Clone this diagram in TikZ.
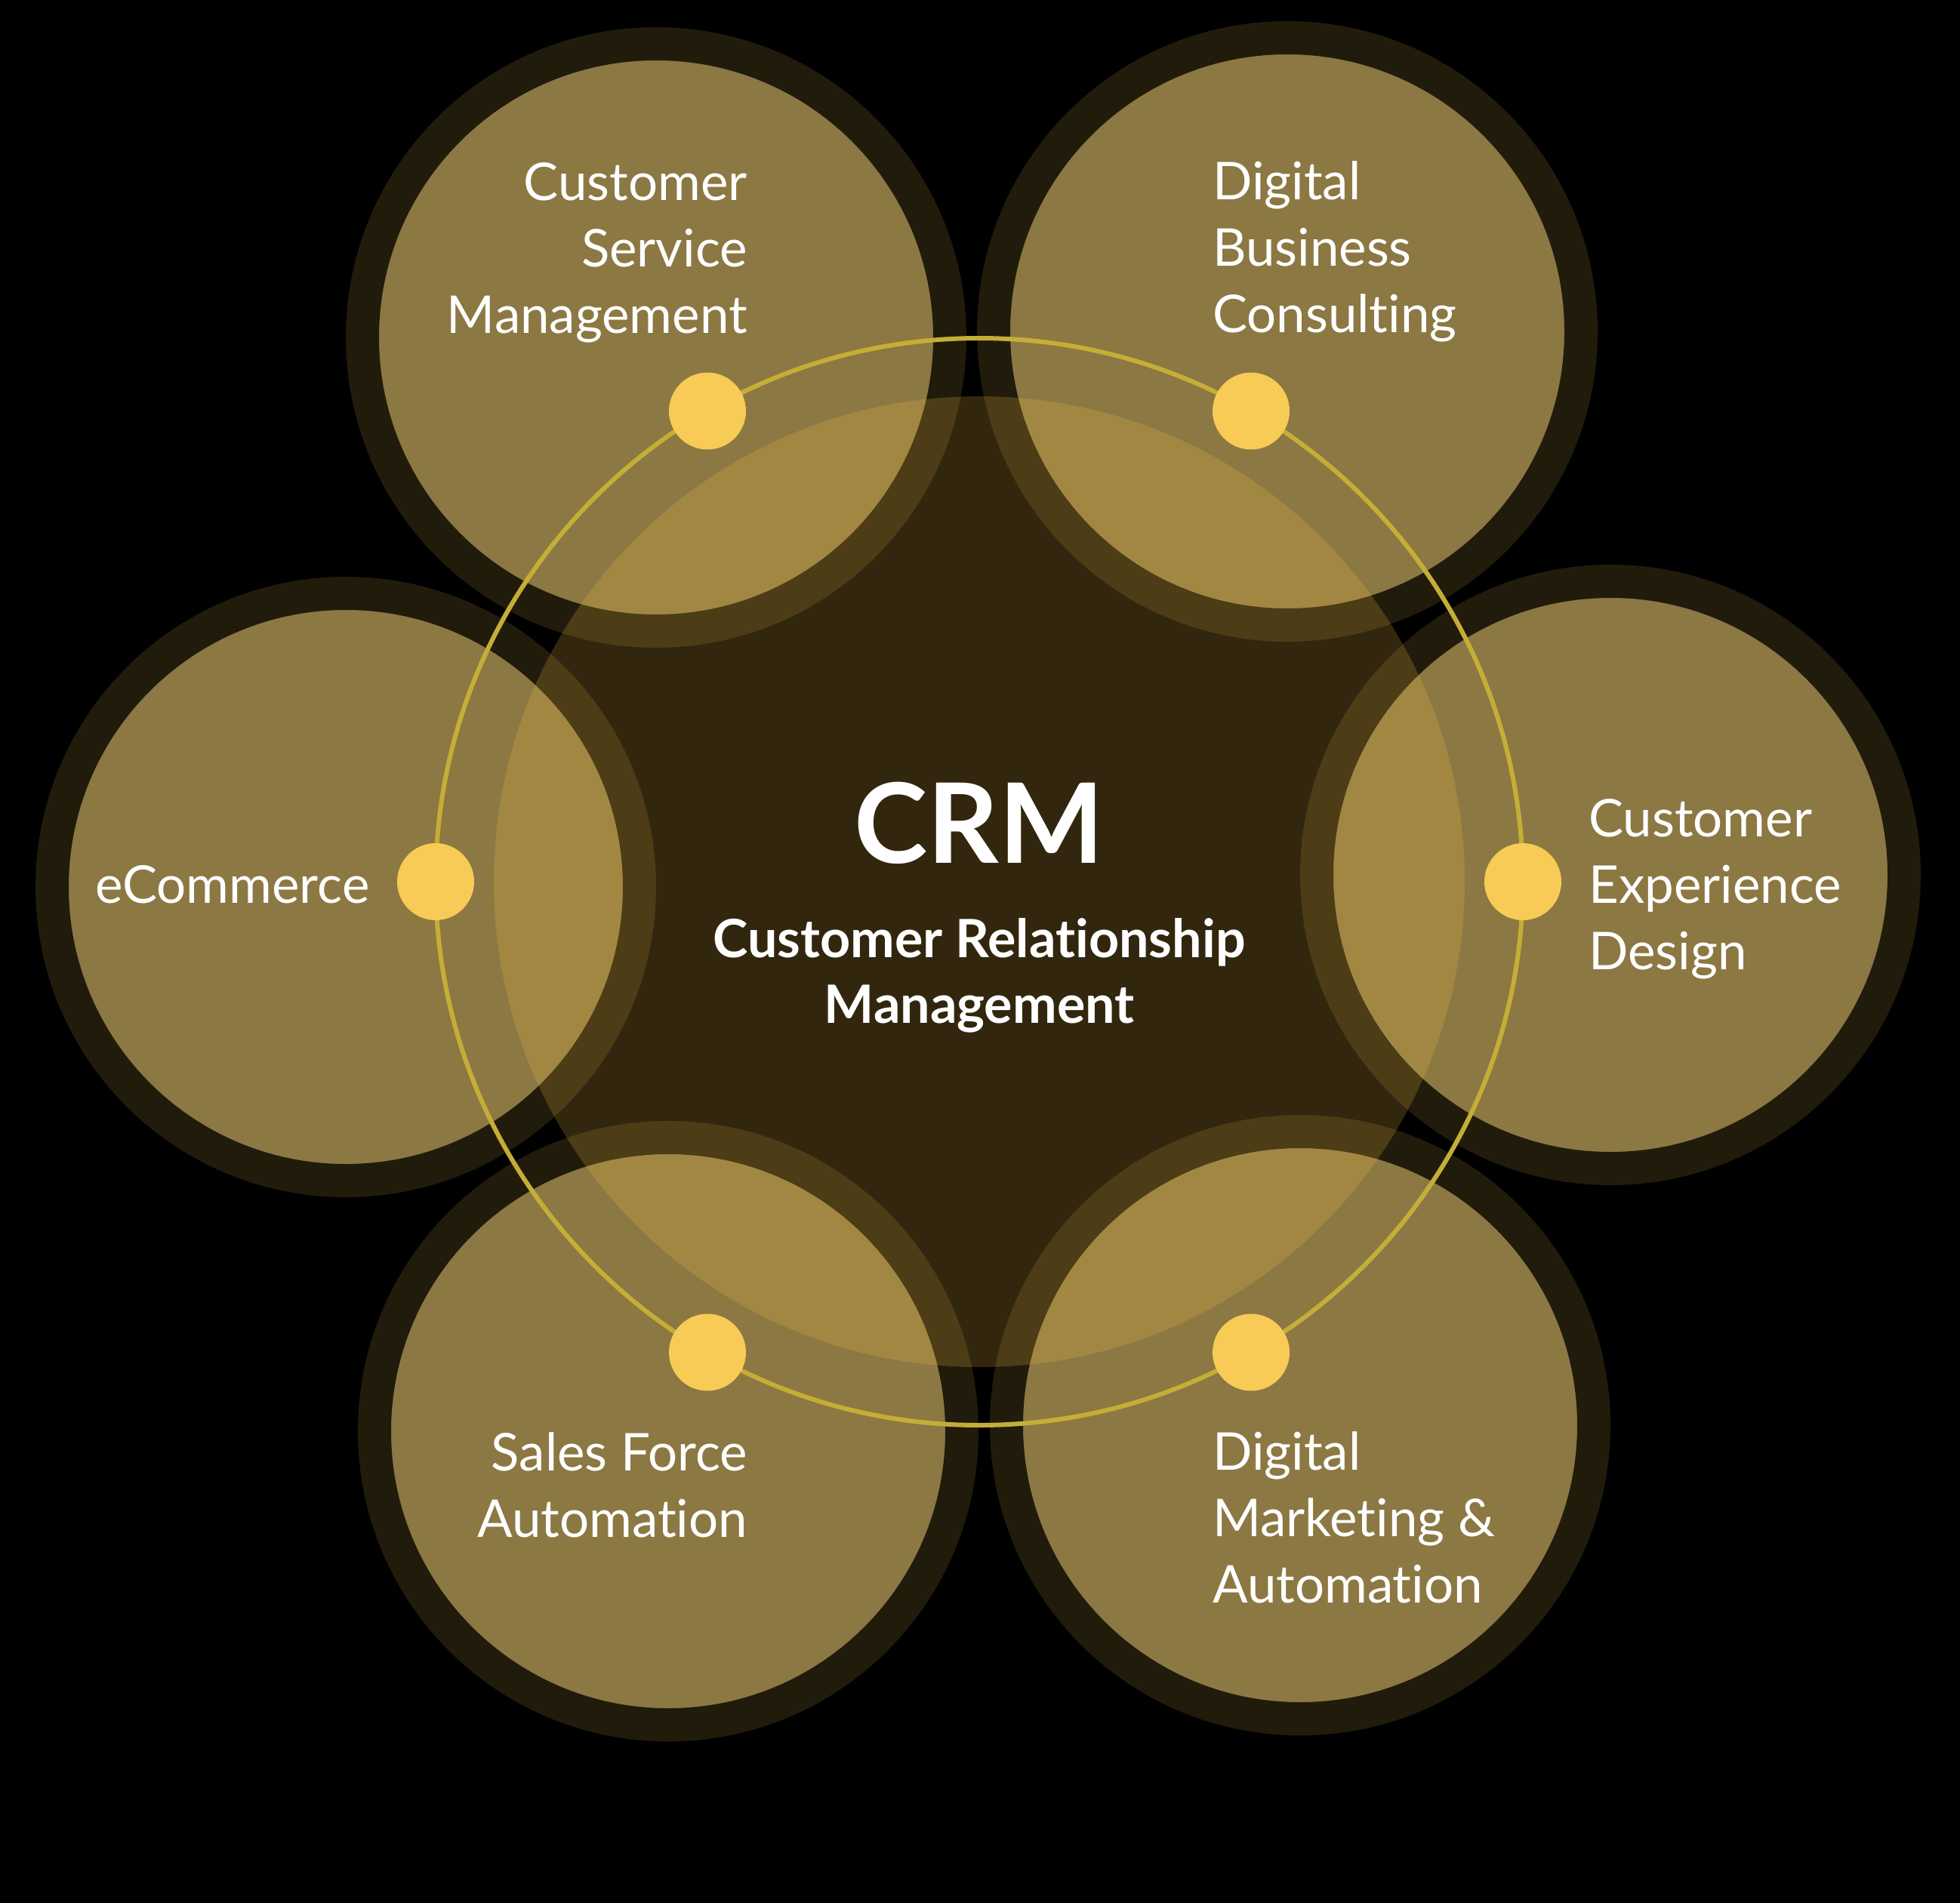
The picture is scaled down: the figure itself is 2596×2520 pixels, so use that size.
\documentclass[tikz,border=0pt]{standalone}
\usepackage{fontspec}
\setmainfont{Lato}[Ligatures={NoCommon,NoRare}]
\definecolor{satfill}{RGB}{140,120,67}
\definecolor{satring}{RGB}{33,27,12}
\definecolor{cenfill}{RGB}{250,198,70}
\definecolor{ringline}{RGB}{196,174,55}
\definecolor{dotfill}{RGB}{247,203,85}
\tikzset{
  sat/.style={circle, minimum size=778pt, inner sep=0pt, fill=satfill, draw=satring, line width=44pt},
  dotnode/.style={circle, minimum size=102pt, inner sep=0pt, fill=dotfill},
  lbl/.style={text=white, inner sep=0pt, font=\fontsize{69}{88}\selectfont},
}
\begin{document}
\begin{tikzpicture}[x=1pt,y=-1pt]
\useasboundingbox (0,0) rectangle (2596,2520);
\fill[black] (-20,-20) rectangle (2616,2540);
% satellites
\node[sat] (csm) at (869,447) {};
\node[sat] (dbc) at (1705,439) {};
\node[sat] (eco) at (458,1175) {};
\node[sat] (cxd) at (2133,1159) {};
\node[sat] (sfa) at (885,1896) {};
\node[sat] (dma) at (1722,1888) {};
% central circle
\node[circle, minimum size=1286pt, inner sep=0pt, fill=cenfill, fill opacity=0.2] (crm) at (1297,1168) {};
% ring line
\draw[ringline, line width=6pt] (crm.center) circle[radius=720];
% dots
\node[dotnode] (d1) at (937,544.5) {};
\node[dotnode] (d2) at (1657,544.5) {};
\node[dotnode] (d3) at (577,1168) {};
\node[dotnode] (d4) at (2017,1168) {};
\node[dotnode] (d5) at (937,1791.5) {};
\node[dotnode] (d6) at (1657,1791.5) {};
% labels (anchor at baseline of last line)
\node[lbl, anchor=base east, align=right] (tcsm) at (990,441) {Customer\\Service\\Management};
\node[lbl, anchor=base west, align=left] (tdbc) at (1606,440) {Digital\\Business\\Consulting};
\node[lbl, anchor=base west] (teco) at (126,1196) {eCommerce};
\node[lbl, anchor=base west, align=left] (tcxd) at (2104,1284) {Customer\\Experience\\Design};
\node[lbl, anchor=base east, align=right] (tsfa) at (990,2036) {Sales Force\\Automation};
\node[lbl, anchor=base west, align=left] (tdma) at (1606,2123) {Digital\\Marketing \&\\Automation};
% center text
\node[text=white, inner sep=0pt, anchor=base, font=\fontsize{147}{150}\bfseries\selectfont] (tcrm) at (1297,1143) {CRM};
\node[text=white, inner sep=0pt, anchor=base, align=center, font=\fontsize{70}{87}\bfseries\selectfont] (tsub) at (1297,1355) {Customer Relationship\\Management};
\end{tikzpicture}
\end{document}
